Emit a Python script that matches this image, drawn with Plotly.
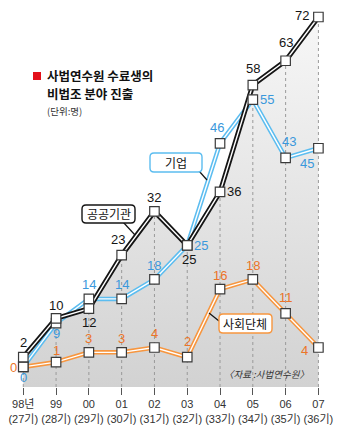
import plotly.graph_objects as go

# ---- data ----
years = ["98년", "99", "00", "01", "02", "03", "04", "05", "06", "07"]
classes = ["27기", "28기", "29기", "30기", "31기", "32기", "33기", "34기", "35기", "36기"]
public_org = [2, 10, 12, 23, 32, 25, 36, 58, 63, 72]     # 공공기관
company = [0, 9, 14, 14, 18, 25, 46, 55, 43, 45]         # 기업
civic_group = [0, 1, 3, 3, 4, 2, 16, 18, 11, 4]          # 사회단체

# label offsets (px, right / down) for each series' value labels
public_off = [(0, -15), (0, -13), (0, 14), (-4, -16), (0, -14), (2, 14), (14, 0), (0, -17), (0, -18), (-16, -2)]
company_off = [(0, 11), (0, 10), (0, -14), (0, -14), (0, -14), (14, 0), (-3, -16), (14, 0), (3, -16), (-11, 15)]
civic_off = [(-10, 1), (0, -12), (0, -14), (0, -14), (0, -14), (0, -16), (0, -14), (0, -14), (0, -16), (-14, 3)]

W, H = 343, 431
PLOT_H = 387
Y_MIN, Y_MAX = -4.13, 75.5
X_MIN, X_MAX = -0.71, 9.75

BLACK = "#151515"
BLUE_LINE = "#5cbdf0"
BLUE_TXT = "#3a98dc"
ORANGE_LINE = "#f7963f"
ORANGE_TXT = "#ec7428"
FONT = "Liberation Sans, Noto Sans CJK KR, sans-serif"
KFONT = "Noto Sans CJK KR, sans-serif"

xs = list(range(len(years)))
fig = go.Figure()

# gray gradient area beneath the public-organization line
fig.add_trace(go.Scatter(x=xs, y=[Y_MIN] * len(xs), mode="lines",
                         line=dict(width=0), hoverinfo="skip", showlegend=False))
fig.add_trace(go.Scatter(
    x=xs, y=public_org, mode="lines", line=dict(width=0), fill="tonexty",
    fillgradient=dict(type="vertical", start=Y_MIN, stop=max(public_org),
                      colorscale=[[0, "#d2d2d2"], [1, "#f7f7f7"]]),
    hoverinfo="skip", showlegend=False))

# dotted drop lines from each public-organization point to the base
dx, dy = [], []
for i, v in enumerate(public_org):
    dx += [i, i, None]
    dy += [Y_MIN, v, None]
fig.add_trace(go.Scatter(x=dx, y=dy, mode="lines",
                         line=dict(color="#9a9a9a", width=1, dash="dot"),
                         hoverinfo="skip", showlegend=False))


def double_line(vals, color, outer=5):
    fig.add_trace(go.Scatter(x=xs, y=vals, mode="lines",
                             line=dict(color=color, width=outer),
                             hoverinfo="skip", showlegend=False))
    fig.add_trace(go.Scatter(x=xs, y=vals, mode="lines",
                             line=dict(color="white", width=1.4),
                             hoverinfo="skip", showlegend=False))


def markers(vals):
    fig.add_trace(go.Scatter(x=xs, y=vals, mode="markers",
                             marker=dict(symbol="square", size=9.5, color="white",
                                         line=dict(color="#3a3a3a", width=1.2)),
                             hoverinfo="skip", showlegend=False))


double_line(civic_group, ORANGE_LINE, 4.5)
double_line(company, BLUE_LINE, 4.5)
double_line(public_org, BLACK, 5)
markers(civic_group)
markers(company)
markers(public_org)

annotations = []


def value_labels(vals, offs, color):
    for i, (v, (ox, oy)) in enumerate(zip(vals, offs)):
        annotations.append(dict(x=i, y=v, xref="x", yref="y", text=str(v),
                                showarrow=False, xshift=ox, yshift=-oy,
                                xanchor="center", yanchor="middle",
                                font=dict(family=FONT, size=13, color=color)))


value_labels(civic_group, civic_off, ORANGE_TXT)
value_labels(company, company_off, BLUE_TXT)
value_labels(public_org, public_off, BLACK)


def px(x):
    return x / W


def py(y):
    return 1 - y / PLOT_H


def rounded_box(x0, y0, x1, y1, r=4):
    pts = [("M", [(x0 + r, y0)]), ("L", [(x1 - r, y0)]), ("Q", [(x1, y0), (x1, y0 + r)]),
           ("L", [(x1, y1 - r)]), ("Q", [(x1, y1), (x1 - r, y1)]), ("L", [(x0 + r, y1)]),
           ("Q", [(x0, y1), (x0, y1 - r)]), ("L", [(x0, y0 + r)]), ("Q", [(x0, y0), (x0 + r, y0)])]
    return " ".join(cmd + " " + " ".join(f"{px(a):.5f},{py(b):.5f}" for a, b in p)
                    for cmd, p in pts) + " Z"


shapes = []

# pointer lines from the boxes to their series
for x0, y0, x1, y1 in [(123, 222, 135, 235), (199, 171, 207, 180), (219, 321, 209, 313)]:
    shapes.append(dict(type="line", xref="paper", yref="paper",
                       x0=px(x0), y0=py(y0), x1=px(x1), y1=py(y1),
                       line=dict(color="#111", width=1.2)))

# series name boxes
boxes = [("공공기관", 82, 205, 135, 223, BLACK), ("기업", 150, 153, 202, 172, BLUE_LINE),
         ("사회단체", 219, 314, 272, 333, ORANGE_LINE)]
for txt, bx0, by0, bx1, by1, bc in boxes:
    shapes.append(dict(type="path", xref="paper", yref="paper",
                       path=rounded_box(bx0, by0, bx1, by1),
                       fillcolor="white", line=dict(color=bc, width=1.4)))
    annotations.append(dict(x=px((bx0 + bx1) / 2), y=py((by0 + by1) / 2),
                            xref="paper", yref="paper", text=txt, showarrow=False,
                            xanchor="center", yanchor="middle",
                            font=dict(family=KFONT, size=12, color="#111")))

# title block
shapes.append(dict(type="rect", xref="paper", yref="paper",
                   x0=px(33), x1=px(41), y0=py(80), y1=py(72),
                   fillcolor="#e3101a", line=dict(width=0)))
annotations.append(dict(x=px(45), y=py(76), xref="paper", yref="paper",
                        xanchor="left", yanchor="middle", showarrow=False,
                        text="<b>사법연수원 수료생의</b>",
                        font=dict(family=KFONT, size=12.5, color="#111")))
annotations.append(dict(x=px(45), y=py(93.5), xref="paper", yref="paper",
                        xanchor="left", yanchor="middle", showarrow=False,
                        text="<b>비법조 분야 진출</b>",
                        font=dict(family=KFONT, size=12.5, color="#111")))
annotations.append(dict(x=px(45), y=py(111), xref="paper", yref="paper",
                        xanchor="left", yanchor="middle", showarrow=False,
                        text="(단위:명)",
                        font=dict(family=KFONT, size=9.5, color="#333")))
annotations.append(dict(x=px(311), y=py(374), xref="paper", yref="paper",
                        xanchor="right", yanchor="middle", showarrow=False,
                        text="<i>〈자료 :사법연수원〉</i>",
                        font=dict(family=KFONT, size=9.5, color="#333")))

fig.update_layout(
    width=W, height=H, margin=dict(l=0, r=0, t=0, b=H - PLOT_H),
    paper_bgcolor="white", plot_bgcolor="white",
    showlegend=False, annotations=annotations, shapes=shapes,
    xaxis=dict(range=[X_MIN, X_MAX], tickmode="array", tickvals=xs,
               ticktext=[f"{y}<br>({c})" for y, c in zip(years, classes)],
               ticks="outside", ticklen=7, tickcolor="#555", tickwidth=1,
               showgrid=False, zeroline=False, showline=False,
               tickfont=dict(family=FONT, size=11, color="#333"), fixedrange=True),
    yaxis=dict(range=[Y_MIN, Y_MAX], visible=False, fixedrange=True),
)

fig.write_html("out.html")
